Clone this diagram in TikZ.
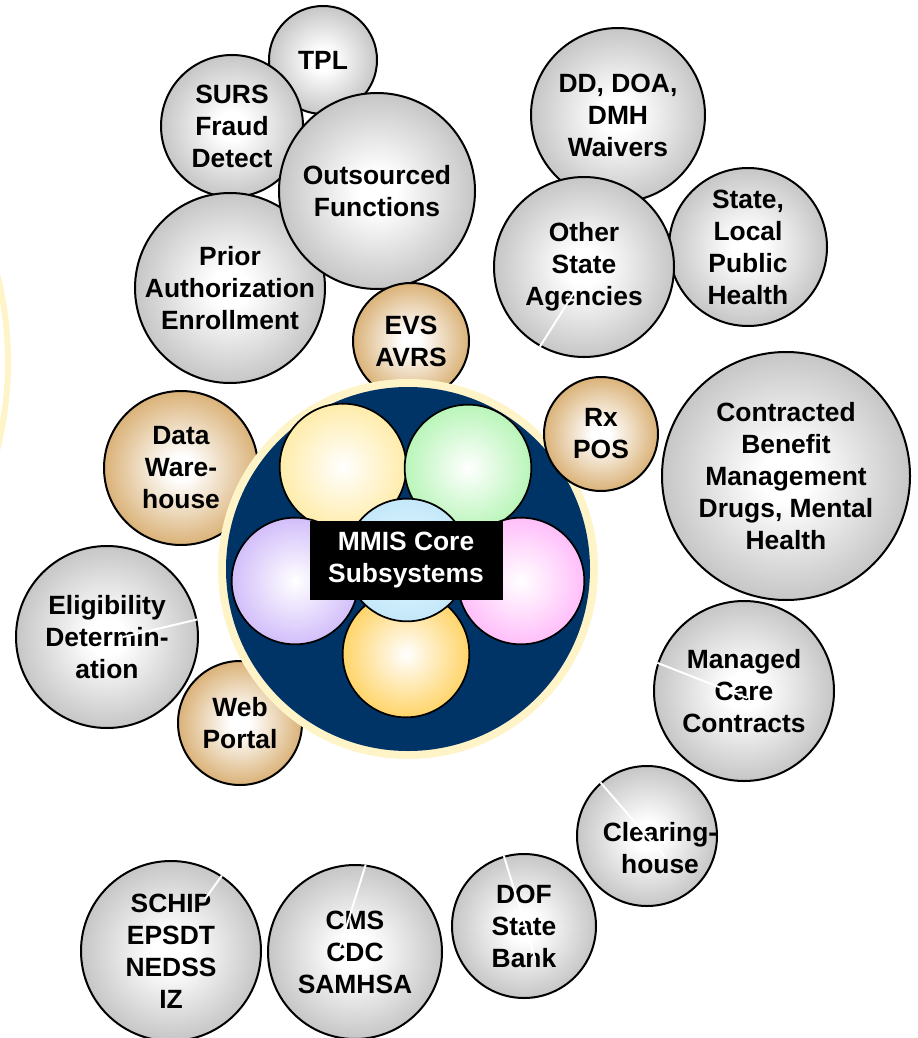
\documentclass[tikz,border=0pt]{standalone}
\usepackage{fontspec}
\setmainfont{Liberation Sans}
\usepackage{tikz}
\usetikzlibrary{calc}
\definecolor{bubblegray}{RGB}{198,198,198}
\definecolor{bubbletan}{RGB}{218,178,120}
\definecolor{mmisnavy}{RGB}{0,51,102}
\definecolor{ringcream}{RGB}{255,243,200}
\definecolor{petalyellow}{RGB}{255,236,170}
\definecolor{petalgreen}{RGB}{185,245,185}
\definecolor{petalpurple}{RGB}{210,190,250}
\definecolor{petalpink}{RGB}{255,190,250}
\definecolor{petalorange}{RGB}{255,212,105}
\definecolor{petalblue}{RGB}{195,232,250}
\pgfdeclareradialshading{grayball}{\pgfpoint{0bp}{0bp}}{color(0bp)=(white); color(5bp)=(white); color(25bp)=(bubblegray); color(50bp)=(bubblegray)}
\pgfdeclareradialshading{tanball}{\pgfpoint{0bp}{0bp}}{color(0bp)=(white); color(4bp)=(white); color(25bp)=(bubbletan); color(50bp)=(bubbletan)}
\tikzset{
  bubbletext/.style={font=\bfseries\fontsize{19.8}{24}\selectfont, align=center},
  bubble/.style={circle, draw=black, line width=1.5pt, inner sep=0pt,
    minimum size=(#1-1)*1.5pt, shading=grayball, bubbletext},
  tanbubble/.style={bubble=#1, shading=tanball},
  petal/.style={circle, draw=black, line width=1.3pt, minimum size=95pt,
    shade, inner color=white, outer color=#1},
  gap/.style={white, line width=1.5pt}
}

\begin{document}
\begin{tikzpicture}[x=0.75pt, y=-0.75pt]
\useasboundingbox (0,0) rectangle (917,1038);
\draw[ringcream, line width=4.5pt] (-350,362) circle [radius=358];

\node[bubble=55] (tpl) at (323,60) {TPL};
\node[bubble=72] (surs) at (232,126) {SURS\\Fraud\\Detect};
\node[bubble=96] (prior) at (230,288) {Prior\\Authorization\\Enrollment};
\node[bubble=99] (outsrc) at (377,191) {Outsourced\\Functions};
\node[tanbubble=59] (evs) at (411,341) {EVS\\AVRS};
\node[tanbubble=78] (dwh) at (181,468) {Data\\Ware-\\house};
\node[bubble=92] (elig) at (107,637) {Eligibility\\Determin-\\ation};
\node[tanbubble=63] (web) at (240,723) {Web\\Portal};

% core
\node[circle, fill=ringcream, minimum size=285pt] (ring) at (408,569) {};
\node[circle, fill=mmisnavy, minimum size=273pt] (core) at (ring) {};
\node[petal=petalyellow] (p1) at (343,467) {};
\node[petal=petalgreen] (p2) at (468,468) {};
\node[petal=petalpurple] (p3) at (295,581) {};
\node[petal=petalpink] (p4) at (521,581) {};
\node[petal=petalorange] (p5) at (406,654) {};
\node[petal=petalblue, inner color=petalblue!40!white, minimum size=92pt] (p6) at (407,560) {};
\node[fill=black, text=white, bubbletext, inner sep=0pt,
  minimum width=144.75pt, minimum height=59.25pt] (mmis) at (406,560) {MMIS Core\\Subsystems};

\node[tanbubble=58] (rx) at (601,434) {Rx\\POS};
\node[bubble=88] (ddw) at (618,115) {DD, DOA,\\DMH\\Waivers};
\node[bubble=80] (slph) at (748,247) {State,\\Local\\Public\\Health};
\node[bubble=91] (osa) at (584,267) {Other\\State\\Agencies};
\node[bubble=125] (cbm) at (786,476) {Contracted\\Benefit\\Management\\Drugs, Mental\\Health};
\node[bubble=91] (mcc) at (744,691) {Managed\\Care\\Contracts};
\node[bubble=71] (clh) at (647,836) {};
\node[bubbletext] (clhtext) at (660,848) {Clearing-\\house};
\node[bubble=73] (dof) at (524,926) {DOF\\State\\Bank};
\node[bubble=88] (cms) at (355,952) {CMS\\CDC\\SAMHSA};
\node[bubble=91] (schip) at (171,951) {SCHIP\\EPSDT\\NEDSS\\IZ};

\draw[gap] (osa.-119) -- ($(osa.center)+(-7,21)$);
\draw[gap] (mcc.162) -- ($(mcc.center)+(3,7)$);
\draw[gap] (clh.131) -- ($(clh.center)+(18,21)$);
\draw[gap] (dof.106) -- ($(dof.center)+(11,32)$);
\draw[gap] (cms.83) -- ($(cms.center)+(-15,-5)$);
\draw[gap] (schip.56) -- ($(schip.center)+(34,-52)$);
\draw[gap] (elig.11) -- ($(elig.center)+(16,0)$);
\end{tikzpicture}
\end{document}
